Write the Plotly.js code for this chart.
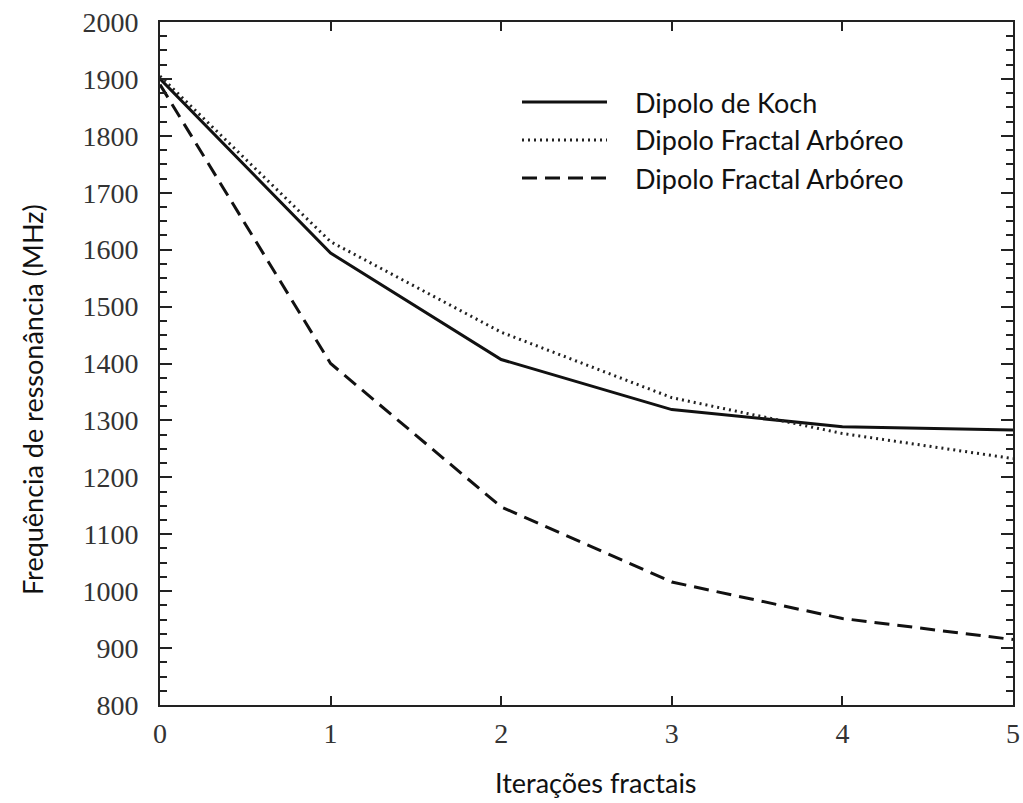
<!DOCTYPE html>
<html>
<head>
<meta charset="utf-8">
<script src="https://cdn.plot.ly/plotly-3.0.1.min.js"></script>
<style>html,body{margin:0;padding:0;background:#fff;}#chart{width:1023px;height:803px;}</style>
</head>
<body>
<div id="chart"></div>
<script>
// Data
const iterations = [0, 1, 2, 3, 4, 5];
const kochDipole = [1900, 1594, 1407, 1319, 1289, 1283];
const treeDipoleDotted = [1905, 1614, 1455, 1340, 1277, 1233];
const treeDipoleDashed = [1890, 1400, 1148, 1016, 952, 915];
const seriesNames = ["Dipolo de Koch", "Dipolo Fractal Arbóreo", "Dipolo Fractal Arbóreo"];
const yTickValues = [800, 900, 1000, 1100, 1200, 1300, 1400, 1500, 1600, 1700, 1800, 1900, 2000];
const xTickValues = [0, 1, 2, 3, 4, 5];
const xTitle = "Iterações fractais";
const yTitle = "Frequência de ressonância (MHz)";

const styles = [
  {color: "#111", width: 3, dash: "solid"},
  {color: "#222", width: 3, dash: "2px,4px"},
  {color: "#111", width: 3, dash: "15px,8px"}
];
const series = [kochDipole, treeDipoleDotted, treeDipoleDashed];

const traces = series.map((ys, i) => ({
  type: "scatter", mode: "lines", x: iterations, y: ys, name: seriesNames[i],
  line: styles[i], showlegend: false, hoverinfo: "skip"
}));

const W = 853, H = 683, L = 160, T = 22;
const px = v => (v - L) / W;
const py = v => (T + H - v) / H;

const legendRows = [102, 140, 178];
const shapes = legendRows.map((r, i) => ({
  type: "line", xref: "paper", yref: "paper",
  x0: px(522), x1: px(607), y0: py(r), y1: py(r),
  line: styles[i]
}));
const legendText = legendRows.map((r, i) => ({
  xref: "paper", yref: "paper", x: px(633), y: py(r), xanchor: "left", yanchor: "middle",
  text: seriesNames[i], showarrow: false, font: {family: "Lato, 'Open Sans', sans-serif", size: 27, color: "#111"}
}));

const titleFont = {family: "Lato, 'Open Sans', sans-serif", size: 27, color: "#111"};
const annotations = legendText.concat([
  {xref: "paper", yref: "paper", x: px(596), y: py(782), xanchor: "center", yanchor: "middle",
   text: xTitle, showarrow: false, font: titleFont},
  {xref: "paper", yref: "paper", x: px(32), y: py(400), xanchor: "center", yanchor: "middle",
   text: yTitle, textangle: -90, showarrow: false, font: titleFont}
]);

const tickFont = {family: "'Liberation Serif', 'DejaVu Serif', serif", size: 28, color: "#333"};

const layout = {
  width: 1023, height: 803,
  margin: {l: L, r: 1023 - L - W, t: T, b: 803 - T - H},
  paper_bgcolor: "#fff", plot_bgcolor: "#fff",
  showlegend: false,
  xaxis: {
    range: [0, 5], tickvals: xTickValues, ticktext: xTickValues.map(String),
    ticks: "inside", ticklen: 9, tickwidth: 2, tickcolor: "#222",
    showline: true, linecolor: "#222", linewidth: 2, mirror: "ticks",
    showgrid: false, zeroline: false, tickfont: tickFont, ticklabelstandoff: 2
  },
  yaxis: {
    range: [800, 2000], tickvals: yTickValues, ticktext: yTickValues.map(String),
    ticks: "inside", ticklen: 12, tickwidth: 2, tickcolor: "#222",
    minor: {dtick: 25, ticks: "inside", ticklen: 7, tickwidth: 2, tickcolor: "#222", showgrid: false},
    showline: true, linecolor: "#222", linewidth: 2, mirror: "ticks",
    showgrid: false, zeroline: false, tickfont: tickFont, ticklabelstandoff: 14
  },
  shapes: shapes,
  annotations: annotations
};

Plotly.newPlot("chart", traces, layout, {staticPlot: true, displayModeBar: false});
</script>
</body>
</html>
